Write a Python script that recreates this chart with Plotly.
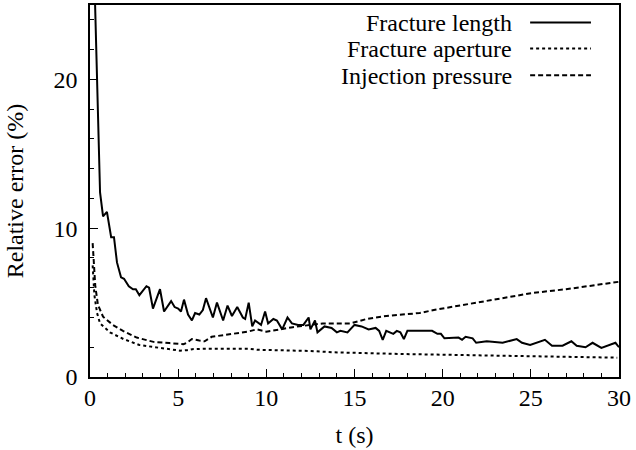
import plotly.graph_objects as go

# fracture length error (%)
length_t = [0.2, 0.57, 0.74, 0.96, 1.2, 1.36, 1.53, 1.76, 1.93, 2.2, 2.44, 2.6, 2.8, 3.2,
            3.35, 3.57, 3.97, 4.2, 4.6, 4.8, 5.0, 5.16, 5.33, 5.56, 5.78, 5.96, 6.2, 6.4,
            6.58, 6.97, 7.2, 7.55, 7.8, 8.05, 8.35, 8.67, 8.8, 9.0, 9.2, 9.36, 9.7, 9.93,
            10.1, 10.4, 10.6, 10.9, 11.2, 11.45, 11.8, 12.1, 12.4, 12.5, 12.76, 12.9, 13.3,
            13.7, 14.0, 14.2, 14.6, 15.0, 15.4, 15.8, 16.2, 16.4, 16.6, 16.8, 17.2, 17.4,
            17.6, 17.8, 18.0, 19.4, 19.7, 19.9, 20.1, 20.9, 21.1, 21.3, 21.7, 21.9, 22.5,
            23.0, 23.4, 24.2, 24.5, 24.96, 25.8, 26.2, 26.8, 27.3, 27.6, 28.1, 28.5, 29.0,
            29.4, 29.8, 30.0]
length_err = [29, 12.4, 10.8, 11.1, 9.4, 9.4, 7.7, 6.7, 6.6, 6.1, 5.9, 5.9, 5.5, 6.1,
              6.0, 4.6, 5.9, 4.4, 5.1, 4.7, 4.6, 4.4, 5.2, 4.2, 3.8, 4.3, 4.2, 4.5,
              5.3, 4.0, 5.0, 3.8, 4.8, 4.1, 4.7, 4.0, 3.9, 5.0, 3.4, 3.8, 3.5, 4.4,
              3.6, 3.9, 3.8, 3.2, 4.0, 3.6, 3.5, 3.5, 4.0, 3.2, 3.8, 3.0, 3.4,
              3.3, 3.0, 3.1, 3.0, 3.5, 3.4, 3.2, 3.3, 3.1, 2.5, 3.1, 2.9, 3.1,
              3.0, 2.55, 3.1, 3.1, 2.9, 2.9, 2.6, 2.65, 2.5, 2.7, 2.6, 2.3, 2.4,
              2.35, 2.3, 2.55, 2.3, 2.15, 2.5, 2.1, 2.1, 2.4, 2.1, 2.0, 2.3, 1.95,
              2.1, 2.3, 2.0]

# fracture aperture error (%)
aperture_t = [0.15, 0.25, 0.4, 0.57, 1.13, 1.9, 2.8, 4.0, 5.1, 5.5, 5.8, 6.5, 9.0, 9.5,
              11.5, 12.5, 13.8, 17.5, 23.3, 29.9]
aperture_err = [7.5, 5.5, 4.3, 3.6, 3.0, 2.55, 2.15, 1.93, 1.77, 1.8, 1.87, 1.9, 1.9, 1.83,
                1.8, 1.75, 1.66, 1.55, 1.43, 1.3]

# injection pressure error (%)
pressure_t = [0.15, 0.23, 0.3, 0.45, 0.57, 0.74, 1.3, 1.87, 2.65, 3.6, 4.5, 5.3, 5.5, 5.78,
              6.2, 6.5, 6.9, 8.1, 8.96, 9.45, 10.0, 10.8, 11.5, 12.5, 13.2, 14.75, 15.7,
              16.8, 18.7, 19.5, 21.4, 23.3, 25.1, 27.0, 28.9, 30.0]
pressure_err = [9.0, 7.4, 6.1, 4.85, 4.5, 4.05, 3.5, 3.1, 2.65, 2.36, 2.28, 2.2, 2.3, 2.55,
                2.45, 2.4, 2.7, 2.9, 3.05, 3.2, 3.05, 3.2, 3.35, 3.5, 3.6, 3.6, 3.9,
                4.1, 4.3, 4.5, 4.9, 5.3, 5.65, 5.9, 6.2, 6.4]

names = ["Fracture length", "Fracture aperture", "Injection pressure"]
dashes = ["solid", "dot", "5px,3px"]

FONT = "Liberation Serif"
FS = 24

fig = go.Figure()
for name, t, v, d in zip(names, [length_t, aperture_t, pressure_t],
                         [length_err, aperture_err, pressure_err], dashes):
    fig.add_trace(go.Scatter(x=t, y=v, mode="lines", name=name,
                             line=dict(color="black", width=2, dash=d)))

# legend drawn gnuplot-style: text right-aligned, sample line to its right
leg_y = [0.953, 0.883, 0.811]
for name, d, y in zip(names, dashes, leg_y):
    fig.add_annotation(text=name, xref="paper", yref="paper", x=0.8015, y=y - 0.002,
                       xanchor="right", yanchor="middle", showarrow=False,
                       font=dict(size=FS, color="black", family=FONT))
    fig.add_shape(type="line", xref="paper", yref="paper", x0=0.832, x1=0.947,
                  y0=y, y1=y, line=dict(color="black", width=2, dash=d))

axis_common = dict(showgrid=False, zeroline=False, showline=True, linecolor="black",
                   linewidth=1.5, mirror=True, ticks="inside", ticklen=8,
                   tickcolor="black", tickwidth=1, automargin=False,
                   tickfont=dict(size=FS, family=FONT, color="black"))

fig.update_xaxes(range=[0, 30], dtick=5, tick0=0, ticklabelstandoff=-2,
                 minor=dict(ticks="inside", dtick=1, ticklen=4, tickcolor="black"),
                 title=dict(text="t (s)", font=dict(size=FS, family=FONT, color="black"),
                            standoff=17),
                 **axis_common)
fig.update_yaxes(range=[0, 25], dtick=10, tick0=0, ticklabelstandoff=6,
                 minor=dict(ticks="inside", dtick=2, ticklen=4, tickcolor="black"),
                 title=dict(text="Relative error (%)",
                            font=dict(size=FS, family=FONT, color="black"), standoff=23),
                 **axis_common)

fig.update_layout(width=636, height=450, showlegend=False,
                  plot_bgcolor="white", paper_bgcolor="white",
                  margin=dict(l=90, r=17, t=5, b=73),
                  font=dict(family=FONT, color="black"))

fig.write_html("out.html", config={"displayModeBar": False},
               post_script="document.body.style.margin='0';")
